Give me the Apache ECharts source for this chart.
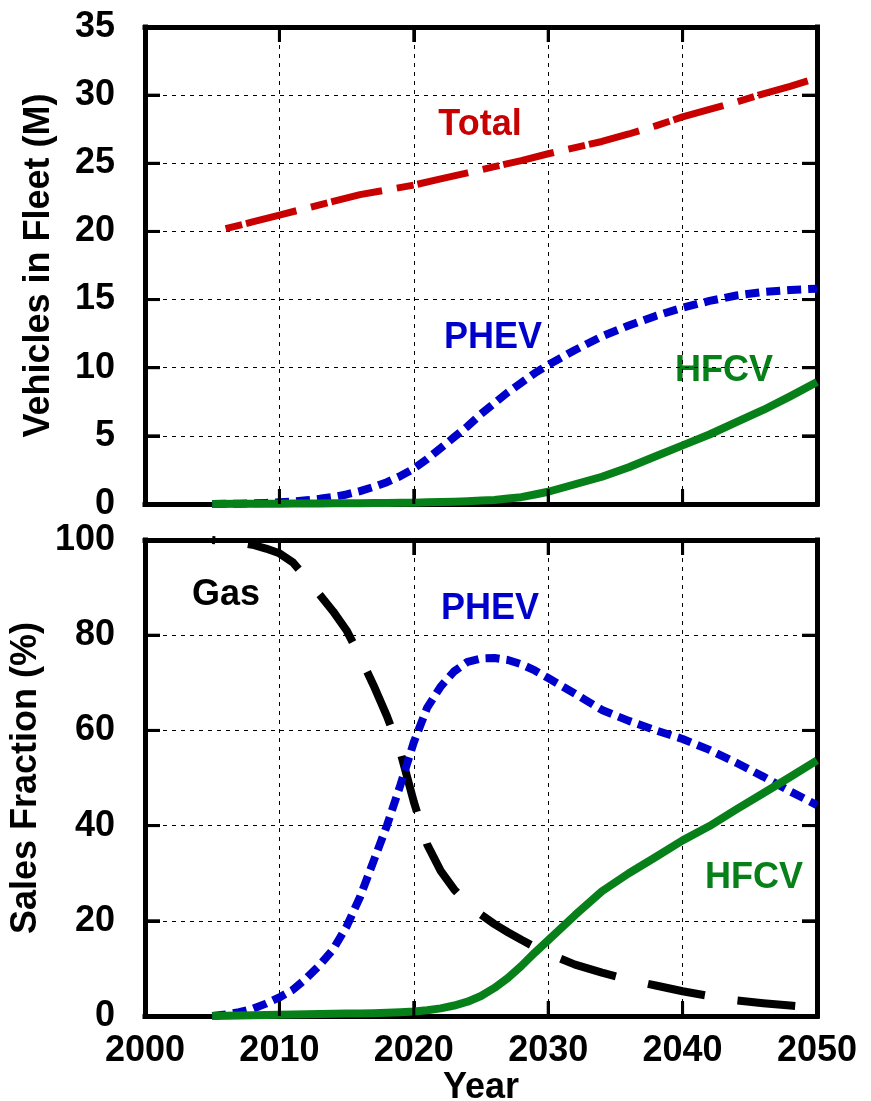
<!DOCTYPE html>
<html>
<head>
<meta charset="utf-8">
<script src="https://cdn.jsdelivr.net/npm/echarts@6/dist/echarts.min.js"></script>
<style>
html,body{margin:0;padding:0;background:#fff;}
#chart{width:871px;height:1101px;}
</style>
</head>
<body>
<div id="chart"></div>
<script>
// ---------- DATA ----------
const xTickValues = [2000, 2010, 2020, 2030, 2040, 2050];
const xTickLabels = ['2000', '2010', '2020', '2030', '2040', '2050'];
const fleetTickValues = [0, 5, 10, 15, 20, 25, 30, 35];
const salesTickValues = [0, 20, 40, 60, 80, 100];

// Top panel: vehicles in fleet (millions)
const totalYears = [2006, 2008, 2010, 2012, 2014, 2016, 2018, 2020, 2022, 2024, 2026, 2028, 2030, 2032, 2034, 2036, 2038, 2040, 2042, 2044, 2046, 2048, 2050];
const totalFleet = [20.2, 20.7, 21.2, 21.7, 22.2, 22.7, 23.05, 23.4, 23.85, 24.3, 24.75, 25.2, 25.7, 26.15, 26.6, 27.15, 27.75, 28.4, 28.95, 29.5, 30.1, 30.65, 31.25];

const fleetYears = [2005, 2007, 2009, 2010, 2011, 2012, 2013, 2014, 2015, 2016, 2017, 2018, 2019, 2020, 2021, 2022, 2023, 2024, 2025, 2026, 2027, 2028, 2029, 2030, 2032, 2034, 2036, 2038, 2040, 2042, 2044, 2046, 2048, 2050];
const phevFleet = [0, 0.02, 0.08, 0.12, 0.18, 0.27, 0.38, 0.52, 0.7, 0.95, 1.25, 1.6, 2.05, 2.6, 3.3, 4.1, 4.9, 5.7, 6.6, 7.4, 8.2, 8.9, 9.6, 10.2, 11.3, 12.3, 13.1, 13.8, 14.4, 14.9, 15.3, 15.55, 15.7, 15.8];
const hfcvFleet = [0, 0.01, 0.02, 0.02, 0.03, 0.03, 0.04, 0.05, 0.05, 0.06, 0.07, 0.08, 0.09, 0.1, 0.12, 0.15, 0.17, 0.2, 0.25, 0.3, 0.4, 0.5, 0.7, 0.9, 1.45, 2.0, 2.7, 3.5, 4.3, 5.1, 6.0, 6.9, 7.9, 8.95];

// Bottom panel: sales fraction (%)
const salesYears = [2005, 2006, 2007, 2008, 2009, 2010, 2011, 2012, 2013, 2014, 2015, 2016, 2017, 2018, 2019, 2020, 2021, 2022, 2023, 2024, 2025, 2026, 2027, 2028, 2029, 2030, 2032, 2034, 2036, 2038, 2040, 2042, 2044, 2046, 2048, 2050];
const gasSales = [100, 99.8, 99.5, 99, 98.2, 97.2, 95.3, 92, 88.5, 85, 81, 75.5, 69.5, 63, 55.5, 45, 36, 30.5, 26.6, 23.6, 21.3, 19.3, 17.6, 16, 14.5, 13.1, 10.8, 9.1, 7.6, 6.4, 5.2, 4.2, 3.3, 2.7, 2.2, 1.7];
const phevSales = [0, 0.3, 0.8, 1.5, 2.6, 3.9, 5.5, 7.9, 10.7, 14, 18.8, 25, 32.5, 40, 48.5, 57.5, 64.8, 69.2, 72.4, 74.4, 75.1, 75.2, 74.8, 73.9, 72.6, 71, 67.7, 64.3, 62, 60, 58.2, 55.9, 53.2, 50.3, 47.2, 44.3];
const hfcvSales = [0, 0.05, 0.1, 0.15, 0.2, 0.25, 0.3, 0.35, 0.4, 0.45, 0.5, 0.55, 0.6, 0.7, 0.8, 0.95, 1.2, 1.6, 2.2, 3.0, 4.2, 5.9, 8.0, 10.5, 13.3, 15.9, 21.2, 26.2, 30, 33.4, 36.9, 39.9, 43.4, 46.8, 50.2, 53.7];

// ---------- STYLE ----------
const FONT = '"Liberation Sans", Arial, Helvetica, sans-serif';
const RED = '#c80000', BLUE = '#0000cd', GREEN = '#08801a', BLACK = '#000';
const TICK_LEN = 15;

function pairs(xs, ys) { return xs.map((x, i) => [x, ys[i]]); }

function axisLineStyle() { return { show: true, onZero: false, lineStyle: { color: BLACK, width: 5, cap: 'square' } }; }
function tickStyle() { return { show: true, inside: true, length: TICK_LEN, lineStyle: { color: BLACK, width: 3 } }; }
function splitStyle() { return { show: true, lineStyle: { color: BLACK, width: 1, type: [4, 5] } }; }
function labelStyle(extra) {
  return Object.assign({ color: BLACK, fontSize: 36, fontWeight: 'bold', fontFamily: FONT }, extra);
}
function nameStyle() { return { color: BLACK, fontSize: 36, fontWeight: 'bold', fontFamily: FONT }; }

function xAxes(gridIndex, showLabels) {
  return [
    {
      type: 'value', gridIndex, position: 'bottom', min: 2000, max: 2050, interval: 10,
      axisLine: axisLineStyle(), axisTick: tickStyle(), splitLine: splitStyle(),
      axisLabel: labelStyle({ show: showLabels, margin: 17,
        formatter: v => xTickLabels[xTickValues.indexOf(v)] }),
      name: showLabels ? 'Year' : '', nameLocation: 'middle', nameGap: 51,
      nameTextStyle: nameStyle()
    },
    {
      type: 'value', gridIndex, position: 'top', min: 2000, max: 2050, interval: 10,
      axisLine: axisLineStyle(), axisTick: tickStyle(), splitLine: { show: false },
      axisLabel: { show: false }
    }
  ];
}
function yAxes(gridIndex, max, interval, name) {
  return [
    {
      type: 'value', gridIndex, position: 'left', min: 0, max, interval,
      axisLine: axisLineStyle(), axisTick: tickStyle(), splitLine: splitStyle(),
      axisLabel: labelStyle({ margin: 30 }),
      name, nameLocation: 'middle', nameGap: 88, nameRotate: 90,
      nameTextStyle: nameStyle()
    },
    {
      type: 'value', gridIndex, position: 'right', min: 0, max, interval,
      axisLine: axisLineStyle(), axisTick: tickStyle(), splitLine: { show: false },
      axisLabel: { show: false }
    }
  ];
}

function line(name, xi, yi, data, color, width, dash, offset) {
  return {
    name, type: 'line', xAxisIndex: xi, yAxisIndex: yi, data,
    showSymbol: false, symbol: 'none', clip: false, smooth: false,
    lineStyle: { color, width, type: dash || 'solid', dashOffset: offset || 0, cap: 'butt', join: 'round' },
    z: 3
  };
}

// inward tick marks on all four sides of a panel, placed via the axes' own scales
function tickSeries(axisIndex, yMax, yTicks) {
  const data = xTickValues.map(v => [v, 0, 0]).concat(yTicks.map(v => [2000, v, 1]));
  return {
    type: 'custom', xAxisIndex: axisIndex, yAxisIndex: axisIndex, clip: false, z: 5, silent: true,
    data,
    renderItem(params, api) {
      const kind = api.value(2);
      const st = { stroke: BLACK, lineWidth: 3 };
      if (kind === 0) {
        const v = api.value(0);
        const pb = api.coord([v, 0]);
        const pt = api.coord([v, yMax]);
        return { type: 'group', children: [
          { type: 'line', shape: { x1: pb[0], y1: pb[1], x2: pb[0], y2: pb[1] - TICK_LEN }, style: st },
          { type: 'line', shape: { x1: pt[0], y1: pt[1], x2: pt[0], y2: pt[1] + TICK_LEN }, style: st }
        ] };
      }
      const v = api.value(1);
      const pl = api.coord([2000, v]);
      const pr = api.coord([2050, v]);
      return { type: 'group', children: [
        { type: 'line', shape: { x1: pl[0], y1: pl[1], x2: pl[0] + TICK_LEN, y2: pl[1] }, style: st },
        { type: 'line', shape: { x1: pr[0], y1: pr[1], x2: pr[0] - TICK_LEN, y2: pr[1] }, style: st }
      ] };
    }
  };
}

const chart = echarts.init(document.getElementById('chart'), null, { renderer: 'canvas' });
const option = {
  backgroundColor: '#fff',
  animation: false,
  grid: [
    { left: 145, right: 54, top: 27, height: 477, outerBoundsMode: 'none', containLabel: false },
    { left: 145, right: 54, top: 540, height: 476, outerBoundsMode: 'none', containLabel: false }
  ],
  xAxis: [...xAxes(0, false), ...xAxes(1, true)],
  yAxis: [...yAxes(0, 35, 5, 'Vehicles in Fleet (M)'), ...yAxes(1, 100, 20, 'Sales Fraction (%)')],
  series: [
    tickSeries(0, 35, fleetTickValues),
    tickSeries(2, 100, salesTickValues),
    line('Total', 0, 0, pairs(totalYears, totalFleet), RED, 7, [17, 4, 52, 15], 0),
    line('PHEV', 0, 0, pairs(fleetYears, phevFleet), BLUE, 8, [14, 7], 0),
    line('HFCV', 0, 0, pairs(fleetYears, hfcvFleet), GREEN, 8),
    line('Gas', 2, 2, pairs(salesYears, gasSales), BLACK, 8, [58, 33], 55),
    line('PHEV', 2, 2, pairs(salesYears, phevSales), BLUE, 8, [14, 7], 0),
    line('HFCV', 2, 2, pairs(salesYears, hfcvSales), GREEN, 8)
  ],
  graphic: [
    { type: 'text', x: 480, y: 125, style: { text: 'Total', fill: RED, font: 'bold 36px ' + FONT, textAlign: 'center', textVerticalAlign: 'middle' } },
    { type: 'text', x: 493, y: 338, style: { text: 'PHEV', fill: BLUE, font: 'bold 36px ' + FONT, textAlign: 'center', textVerticalAlign: 'middle' } },
    { type: 'text', x: 724, y: 371, style: { text: 'HFCV', fill: GREEN, font: 'bold 36px ' + FONT, textAlign: 'center', textVerticalAlign: 'middle' } },
    { type: 'text', x: 226, y: 595, style: { text: 'Gas', fill: BLACK, font: 'bold 36px ' + FONT, textAlign: 'center', textVerticalAlign: 'middle' } },
    { type: 'text', x: 490, y: 609, style: { text: 'PHEV', fill: BLUE, font: 'bold 36px ' + FONT, textAlign: 'center', textVerticalAlign: 'middle' } },
    { type: 'text', x: 754, y: 878, style: { text: 'HFCV', fill: GREEN, font: 'bold 36px ' + FONT, textAlign: 'center', textVerticalAlign: 'middle' } }
  ]
};
chart.setOption(option);
</script>
</body>
</html>
